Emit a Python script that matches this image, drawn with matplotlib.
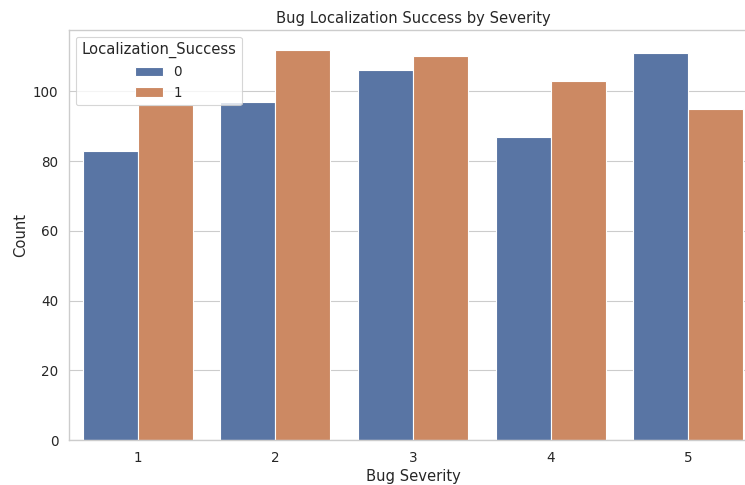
import matplotlib
matplotlib.use("Agg")
import matplotlib.pyplot as plt
import seaborn as sns
import pandas as pd

severity = ["1", "2", "3", "4", "5"]
count_fail = [83, 97, 106, 87, 111]
count_success = [96, 112, 110, 103, 95]
hue_labels = ["0", "1"]

sns.set_theme(style="whitegrid", context="notebook", font_scale=1.11)
plt.rcParams['font.family'] = ['DejaVu Sans']

df = pd.DataFrame({
    "Bug Severity": severity * 2,
    "Count": count_fail + count_success,
    "Localization_Success": [hue_labels[0]] * 5 + [hue_labels[1]] * 5,
})

dpi = 80
fig = plt.figure(figsize=(745 / dpi, 485 / dpi), dpi=dpi)
ax = fig.add_axes([69 / 745, 45 / 485, 688 / 745, 410 / 485])
sns.barplot(data=df, x="Bug Severity", y="Count", hue="Localization_Success",
            hue_order=hue_labels, order=severity, palette="deep", ax=ax,
            errorbar=None)
ax.set_ylim(0, 112 * 1.05)
ax.set_title("Bug Localization Success by Severity")
ax.set_xlabel("Bug Severity")
ax.set_ylabel("Count")
ax.legend(title="Localization_Success", loc="upper left")
fig.savefig("out.png", dpi=dpi)
